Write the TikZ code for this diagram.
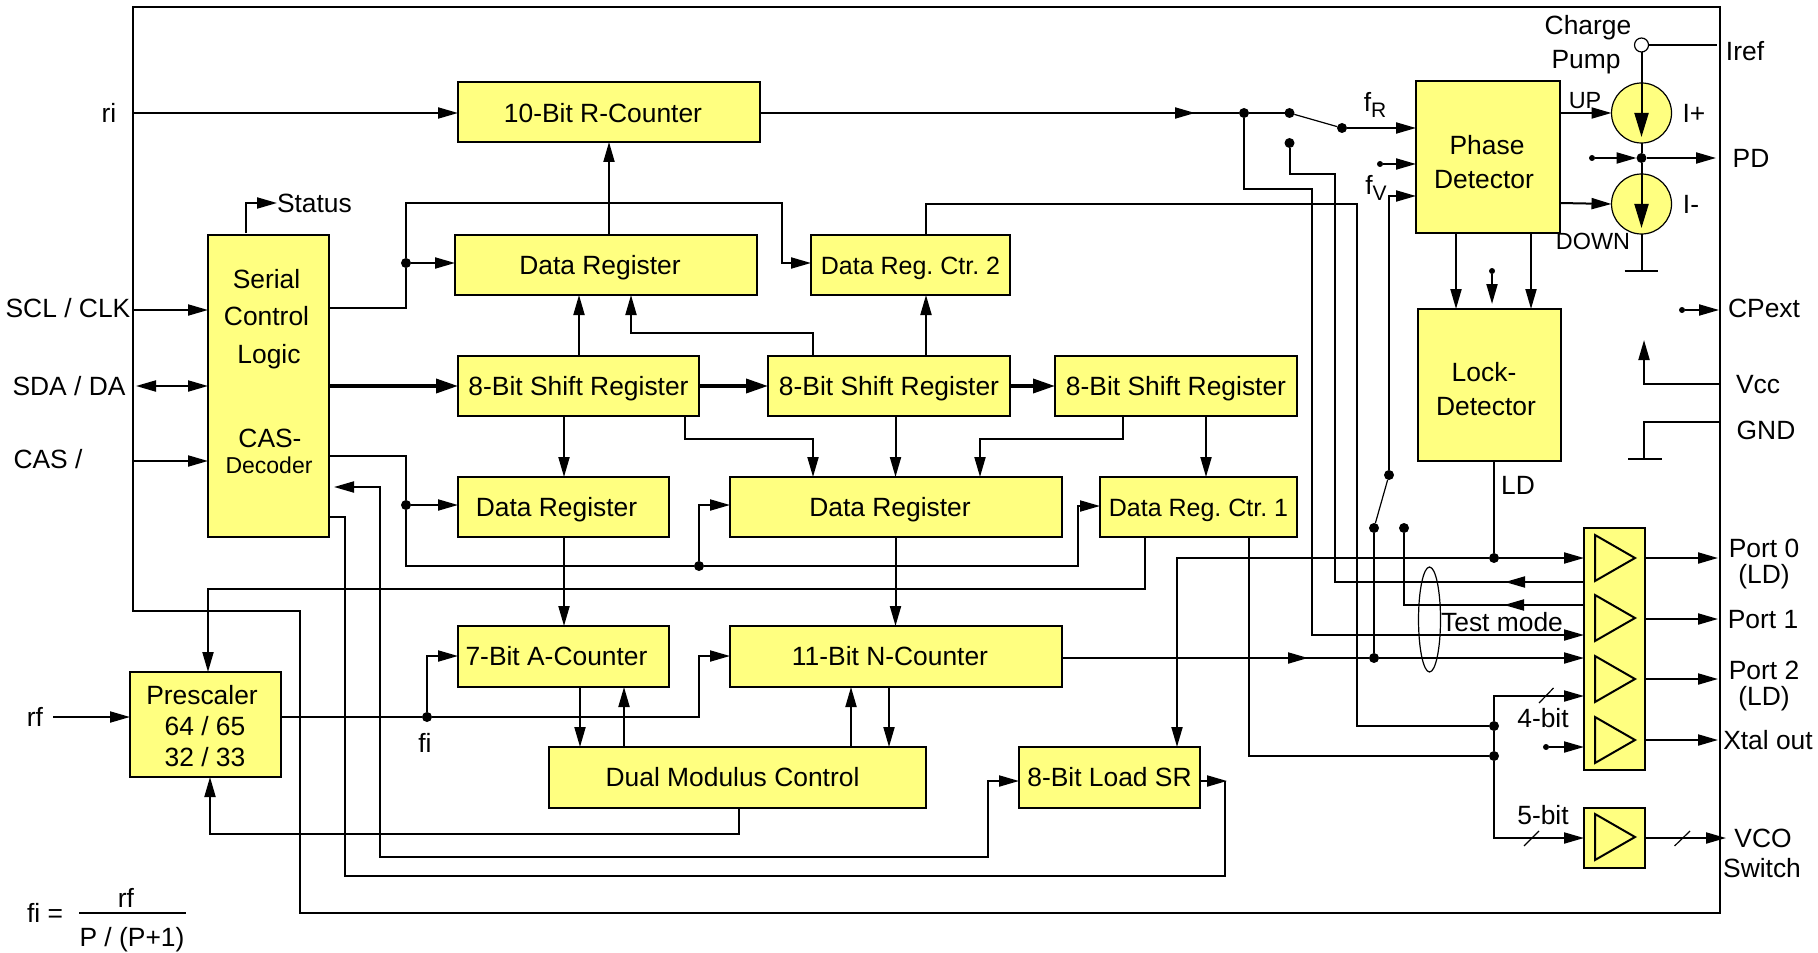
\documentclass[tikz,border=0pt]{standalone}
\usepackage{fontspec}
\setmainfont{Liberation Sans}
\usetikzlibrary{arrows.meta, shapes}

\definecolor{blockyellow}{HTML}{FFFF80}

\begin{document}
\frenchspacing
\begin{tikzpicture}[x=.5pt, y=-.5pt]
	\tikzstyle{every node}=[font=\fontsize{13.2}{15.5}\selectfont, inner sep=0pt, outer sep=0pt, text height=9.4pt, text depth=0pt]
	\tikzstyle{blk}=[rectangle, draw, fill=blockyellow, line width=1pt]
	\tikzstyle{dot}=[circle, fill=black, minimum size=5pt, text height=0pt]
	\tikzstyle{tap}=[circle, fill=black, minimum size=3pt, text height=0pt]
	\tikzstyle{src}=[circle, draw, thinline, text height=0pt]
	\tikzstyle{line}=[line width=1pt]
	\tikzstyle{thinline}=[line width=.6pt]
	\tikzstyle{wire}=[->, line width=1pt, >={Triangle[length=10pt,width=5.5pt]}]
	\tikzstyle{wirebig}=[->, line width=1pt, >={Triangle[length=12pt,width=7pt]}]
	\tikzstyle{bus}=[->, line width=1.8pt, >={Triangle[length=11pt,width=7pt]}]

	\useasboundingbox (0,0) rectangle (1818,952);

	% chip outline
	\draw [line] (133,7) -- (1720,7) -- (1720,913) -- (300,913) -- (300,611) -- (133,611) -- cycle;

	% blocks
	\node[blk, minimum width=151pt, minimum height=30pt, text height=10.4pt] (cntR) at (609,112) {10-Bit R-Counter\hspace*{6pt}};
	\node[blk, minimum width=151pt, minimum height=30pt] (regTop) at (606,265) {Data Register\hspace*{6pt}};
	\node[blk, minimum width=99.5pt, minimum height=30pt, font=\fontsize{12.5}{15}\selectfont] (regCtrB) at (910.5,265) {Data Reg. Ctr. 2};
	\node[blk, minimum width=60.5pt, minimum height=151pt] (ctl) at (268.5,386) {};
	\node[blk, minimum width=120.5pt, minimum height=30pt] (shiftA) at (578.5,386) {8-Bit Shift Register};
	\node[blk, minimum width=121pt, minimum height=30pt] (shiftB) at (889,386) {8-Bit Shift Register};
	\node[blk, minimum width=121pt, minimum height=30pt] (shiftC) at (1176,386) {8-Bit Shift Register};
	\node[blk, minimum width=105.5pt, minimum height=30pt] (regL) at (563.5,507) {Data Register\hspace*{7pt}};
	\node[blk, minimum width=166pt, minimum height=30pt] (regM) at (896,507) {Data Register\hspace*{6pt}};
	\node[blk, minimum width=98.5pt, minimum height=30pt, font=\fontsize{12.5}{15}\selectfont] (regCtrA) at (1198.5,507) {Data Reg. Ctr. 1};
	\node[blk, minimum width=105.5pt, minimum height=30.5pt] (cntA) at (563.5,656.5) {7-Bit A-Counter\hspace*{7pt}};
	\node[blk, minimum width=166pt, minimum height=30.5pt] (cntN) at (896,656.5) {11-Bit N-Counter\hspace*{6pt}};
	\node[blk, minimum width=188.5pt, minimum height=30.5pt] (dual) at (737.5,777.5) {Dual Modulus Control\hspace*{5pt}};
	\node[blk, minimum width=90.5pt, minimum height=30.5pt] (srLoad) at (1109.5,777.5) {8-Bit Load SR};
	\node[blk, minimum width=75.5pt, minimum height=52.5pt] (pre) at (205.5,724.5) {};
	\node[blk, minimum width=72pt, minimum height=76pt] (phase) at (1488,157) {};
	\node[blk, minimum width=71.5pt, minimum height=76pt] (lock) at (1489.5,385) {};
	\node[blk, minimum width=30.5pt, minimum height=121pt] (bufA) at (1614.5,649) {};
	\node[blk, minimum width=30.5pt, minimum height=30pt] (bufB) at (1614.5,838) {};
	\foreach \y in {558,618,679,740,837}
		\draw [line, fill=blockyellow] (1595,\y-23) -- (1635,\y) -- (1595,\y+23) -- cycle;

	% text inside the tall blocks
	\node (lblSerial) at (266.5,279) {Serial};
	\node (lblControl) at (266.5,316) {Control};
	\node (lblLogic) at (269,354) {Logic};
	\node (lblCas) at (270,438) {CAS-};
	\node[font=\fontsize{11.5}{13}\selectfont] (lblDecoder) at (269,464) {Decoder};
	\node (lblPre) at (202,695) {Prescaler};
	\node (lblPreA) at (205,726) {64 / 65};
	\node (lblPreB) at (205,757) {32 / 33};
	\node (lblPhase) at (1487,145) {Phase};
	\node (lblPhaseB) at (1484,179) {Detector};
	\node (lblLock) at (1484,372) {Lock-};
	\node (lblLockB) at (1486,406) {Detector};

	% pins
	\coordinate (pinRi) at (133,113);
	\coordinate (pinClk) at (133,310);
	\coordinate (pinDa) at (136,386);
	\coordinate (pinCas) at (133,461);
	\coordinate (pinRf) at (53,717);
	\coordinate (pinIref) at (1717,45);
	\coordinate (pinPd) at (1716,158);
	\coordinate (pinCp) at (1719,310);
	\coordinate (pinVcc) at (1720,384);
	\coordinate (pinGnd) at (1720,422);
	\coordinate (pinPortA) at (1718,558);
	\coordinate (pinPortB) at (1718,619);
	\coordinate (pinPortC) at (1718,679);
	\coordinate (pinXtal) at (1718,740);
	\coordinate (pinVco) at (1726,838);

	\node (lblRi) at (109,113) {ri};
	\node (lblClk) at (68,308) {SCL / CLK};
	\node (lblDa) at (69,386) {SDA / DA};
	\node (lblCasPin) at (48,459) {CAS /};
	\node (lblRf) at (35,717) {rf};
	\node (lblFi) at (425,743) {fi};
	\node[anchor=west] (lblStatus) at (277,203) {Status};
	\node (lblCharge) at (1588,25) {Charge};
	\node (lblPump) at (1586,59) {Pump};
	\node (lblIref) at (1745,51) {Iref};
	\node[font=\fontsize{11.7}{13}\selectfont] (lblUp) at (1585,99) {UP};
	\node[font=\fontsize{11.7}{13}\selectfont] (lblDown) at (1593,240) {DOWN};
	\node (lblIp) at (1694,113) {I+};
	\node (lblIm) at (1691,204) {I-};
	\node (lblPd) at (1751,158) {PD};
	\node (lblCp) at (1764,308) {CPext};
	\node (lblVcc) at (1758,384) {Vcc};
	\node (lblGnd) at (1766,430) {GND};
	\node (lblFr) at (1375,102) {f\raisebox{-3pt}{\fontsize{10.5}{12}\selectfont R}};
	\node (lblFv) at (1376,185) {f\raisebox{-3pt}{\fontsize{10.5}{12}\selectfont V}};
	\node (lblLd) at (1518,485) {LD};
	\node (lblTest) at (1502,622) {Test mode};
	\node (lblFour) at (1543,718) {4-bit};
	\node (lblFive) at (1543,815) {5-bit};
	\node (lblPortA) at (1764,548) {Port 0};
	\node (lblPortAb) at (1764,574) {(LD)};
	\node (lblPortB) at (1763,619) {Port 1};
	\node (lblPortC) at (1764,670) {Port 2};
	\node (lblPortCb) at (1764,696) {(LD)};
	\node (lblXtal) at (1768,740) {Xtal out};
	\node (lblVco) at (1763,838) {VCO};
	\node (lblSwitch) at (1762,868) {Switch};
	\node (lblFiEq) at (45,913) {fi =};
	\node (lblNum) at (126,898) {rf};
	\node (lblDen) at (132,937) {P / (P+1)};
	\coordinate (fracL) at (79,913);
	\coordinate (fracR) at (186,913);
	\draw [line] (fracL) -- (fracR);

	% junctions
	\node[dot] (dotCtl) at (406,263) {};
	\node[dot] (dotCas) at (406,505) {};
	\node[dot] (dotBack) at (699,566) {};
	\node[dot] (dotFi) at (427,717) {};
	\node[dot] (dotRef) at (1244,113) {};
	\node[dot] (dotSwA) at (1289.5,113) {};
	\node[dot] (dotSwB) at (1289.5,143) {};
	\node[dot] (dotSwC) at (1342,128) {};
	\node[dot] (dotSwD) at (1389,475) {};
	\node[dot] (dotSwE) at (1374,528) {};
	\node[dot] (dotSwF) at (1404,528) {};
	\node[dot] (dotN) at (1374,658) {};
	\node[dot] (dotLd) at (1494,558) {};
	\node[dot] (dotFour) at (1494,726) {};
	\node[dot] (dotLoad) at (1494,756) {};
	\node[dot] (dotPd) at (1641.5,158) {};
	\node[tap] (tapPhase) at (1380,164) {};
	\node[tap] (tapPd) at (1592,158) {};
	\node[tap] (tapLock) at (1492,271) {};
	\node[tap] (tapCp) at (1682,310) {};
	\node[tap] (tapBuf) at (1546,747) {};

	% charge pump
	\node[src, fill=blockyellow, minimum size=30pt] (srcUp) at (1641.5,113) {};
	\node[src, fill=blockyellow, minimum size=30pt] (srcDn) at (1641.5,204) {};
	\node[src, fill=white, minimum size=7pt] (pump) at (1641.5,45) {};
	\coordinate (gndPump) at (1641.5,271);
	\coordinate (gndPumpL) at (1624.5,271);
	\coordinate (gndPumpR) at (1658,271);
	\draw [line] (pump) -- (pinIref);
	\draw [wirebig] (pump) -- (1641.5,137);
	\draw [line] (srcUp.south) -- (dotPd);
	\draw [wirebig] (dotPd) -- (1641.5,228);
	\draw [line] (srcDn.south) -- (gndPump);
	\draw [line, line width=1.4pt] (gndPumpL) -- (gndPumpR);
	\draw [wire] (dotPd) -- (pinPd);
	\draw [wire] (tapPd) -- (dotPd);
	\draw [wire] (phase.east |- 0,113) -- (srcUp.west);
	\draw [wire] (phase.east |- 0,203) -- (srcDn.west);

	% outer pins on the right
	\draw [wire] (tapCp) -- (pinCp);
	\coordinate (vccTip) at (1644,340);
	\draw [wire] (pinVcc) -| (vccTip);
	\coordinate (gndChip) at (1644,459);
	\coordinate (gndChipL) at (1628,459);
	\coordinate (gndChipR) at (1662,459);
	\draw [line] (pinGnd) -| (gndChip);
	\draw [line, line width=1.4pt] (gndChipL) -- (gndChipR);

	% input side
	\draw [wire] (pinRi) -- (cntR.west |- pinRi);
	\draw [wire] (pinClk) -- (ctl.west |- pinClk);
	\draw [wire, <->] (pinDa) -- (ctl.west |- pinDa);
	\draw [wire] (pinCas) -- (ctl.west |- pinCas);
	\draw [wire] (pinRf) -- (pre.west |- pinRf);
	\draw [wire] (246,233) |- (lblStatus.west);
	\draw [line] (ctl.east |- 0,308) -| (dotCtl);
	\draw [wire] (dotCtl) |- (782,203) -- (782,263) -- (regCtrB.west |- dotCtl);
	\draw [wire] (dotCtl) -- (regTop.west |- dotCtl);
	\draw [line] (ctl.east |- 0,456) -| (dotCas);
	\draw [wire] (dotCas) -- (regL.west |- dotCas);
	\draw [line] (dotCas) |- (dotBack);
	\draw [wire] (dotBack) |- (regM.west |- 0,505);
	\draw [wire] (dotBack) -- (1078,566) -- (1078,506) -- (regCtrA.west |- 0,506);

	% shift chain
	\draw [bus] (ctl.east |- shiftA) -- (shiftA.west);
	\draw [bus] (shiftA.east) -- (shiftB.west);
	\draw [bus] (shiftB.east) -- (shiftC.west);
	\draw [wire] (regTop.north -| 609,0) -- (cntR.south -| 609,0);
	\draw [wire] (shiftA.north -| 579,0) -- (regTop.south -| 579,0);
	\draw [wire] (shiftB.north -| 813,0) -- (813,333) -- (631,333) -- (regTop.south -| 631,0);
	\draw [wire] (shiftB.north -| 926,0) -- (regCtrB.south -| 926,0);
	\draw [wire] (shiftA.south -| 564,0) -- (regL.north -| 564,0);
	\draw [wire] (shiftA.south -| 685,0) -- (685,439) -- (813,439) -- (regM.north -| 813,0);
	\draw [wire] (shiftB.south -| 895.5,0) -- (regM.north -| 895.5,0);
	\draw [wire] (shiftC.south -| 1123,0) -- (1123,439) -- (980,439) -- (regM.north -| 980,0);
	\draw [wire] (shiftC.south -| 1206,0) -- (regCtrA.north -| 1206,0);

	% counters
	\draw [wire] (regL.south -| 564,0) -- (cntA.north -| 564,0);
	\draw [wire] (regM.south -| 895.5,0) -- (cntN.north -| 895.5,0);
	\draw [line] (pre.east |- dotFi) -- (dotFi);
	\draw [wire] (dotFi) -- (699,717) -- (699,656) -- (cntN.west |- 0,656);
	\draw [wire] (dotFi) |- (cntA.west |- 0,656);
	\draw [wire] (cntA.south -| 580,0) -- (dual.north -| 580,0);
	\draw [wire] (dual.north -| 624,0) -- (cntA.south -| 624,0);
	\draw [wire] (dual.north -| 851,0) -- (cntN.south -| 851,0);
	\draw [wire] (cntN.south -| 889,0) -- (dual.north -| 889,0);
	\draw [wire] (dual.south -| 739,0) -- (739,834) -- (210,834) -- (pre.south -| 210,0);
	\draw [wire] (regCtrA.south -| 1145,0) -- (1145,589) -- (208,589) -- (pre.north -| 208,0);

	% back to the decoder and load register
	\draw [wire, <->] (srLoad.west |- 0,781) -- (987.5,781) -- (987.5,857) -- (380,857) -- (380,487) -- (334,487);
	\coordinate (srOut) at (1227,781);
	\draw [wire] (srLoad.east |- srOut) -- (srOut);
	\draw [line] (ctl.east |- 0,517) -- (345,517) -- (345,876) -- (1225,876) -- (1225,781);

	% phase detector
	\coordinate (midR) at (1195,113);
	\draw [line] (cntR.east |- midR) -- (dotRef);
	\draw [wire] (cntR.east |- midR) -- (midR);
	\draw [line] (dotRef) -- (dotSwA);
	\draw [thinline] (dotSwA) -- (dotSwC);
	\draw [wire] (dotSwC) -- (phase.west |- dotSwC);
	\draw [wire] (tapPhase) -- (phase.west |- tapPhase);
	\draw [wire] (dotSwD) -- (1389,196) -- (phase.west |- 0,196);
	\draw [thinline] (dotSwD) -- (dotSwE);
	\draw [line] (dotSwE) -- (dotN);
	\draw [wire] (phase.south -| 1456,0) -- (lock.north -| 1456,0);
	\draw [wire] (phase.south -| 1531,0) -- (lock.north -| 1531,0);
	\draw [wire] (tapLock) -- (1492,304);
	\draw [line] (lock.south -| dotLd) -- (dotLd);

	% test lines to the port block
	\draw [wire] (dotRef) -- (1244,189) -- (1312,189) -- (1312,635) -- (bufA.west |- 0,635);
	\coordinate (midTestA) at (1505,582);
	\coordinate (midTestB) at (1504,605);
	\draw [line] (bufA.west |- midTestA) -- (1335,582) -- (1335,174) -- (1289.5,174) -- (dotSwB);
	\draw [wire] (bufA.west |- midTestA) -- (midTestA);
	\draw [line] (bufA.west |- midTestB) -- (1404,605) -- (dotSwF);
	\draw [wire] (bufA.west |- midTestB) -- (midTestB);
	\coordinate (midN) at (1308,658);
	\draw [line] (cntN.east |- midN) -- (dotN);
	\draw [wire] (cntN.east |- midN) -- (midN);
	\draw [wire] (dotN) -- (bufA.west |- dotN);
	\draw [thinline] (1429.5,619.5) ellipse [x radius=11, y radius=52.5];

	% port rows
	\draw [wire] (dotLd) -- (bufA.west |- dotLd);
	\draw [wire] (dotLd) -- (1177,558) -- (srLoad.north -| 1177,0);
	\draw [line] (regCtrB.north -| 926,0) -- (926,204) -- (1357,204) -- (1357,726) -- (dotFour);
	\draw [line] (regCtrA.south -| 1249,0) -- (1249,756) -- (dotLoad);
	\draw [wire] (dotFour) |- (bufA.west |- 0,696);
	\draw [line] (dotFour) -- (dotLoad);
	\draw [wire] (dotLoad) |- (bufB.west);
	\draw [wire] (tapBuf) -- (bufA.west |- tapBuf);
	\draw [wire] (bufA.east |- pinPortA) -- (pinPortA);
	\draw [wire] (bufA.east |- pinPortB) -- (pinPortB);
	\draw [wire] (bufA.east |- pinPortC) -- (pinPortC);
	\draw [wire] (bufA.east |- pinXtal) -- (pinXtal);
	\draw [wire] (bufB.east) -- (pinVco);

	% bus strokes
	\draw [thinline] (1539,703) -- (1553.5,688);
	\draw [thinline] (1524,846) -- (1539,831);
	\draw [thinline] (1674.5,846) -- (1690,831);
\end{tikzpicture}
\end{document}
